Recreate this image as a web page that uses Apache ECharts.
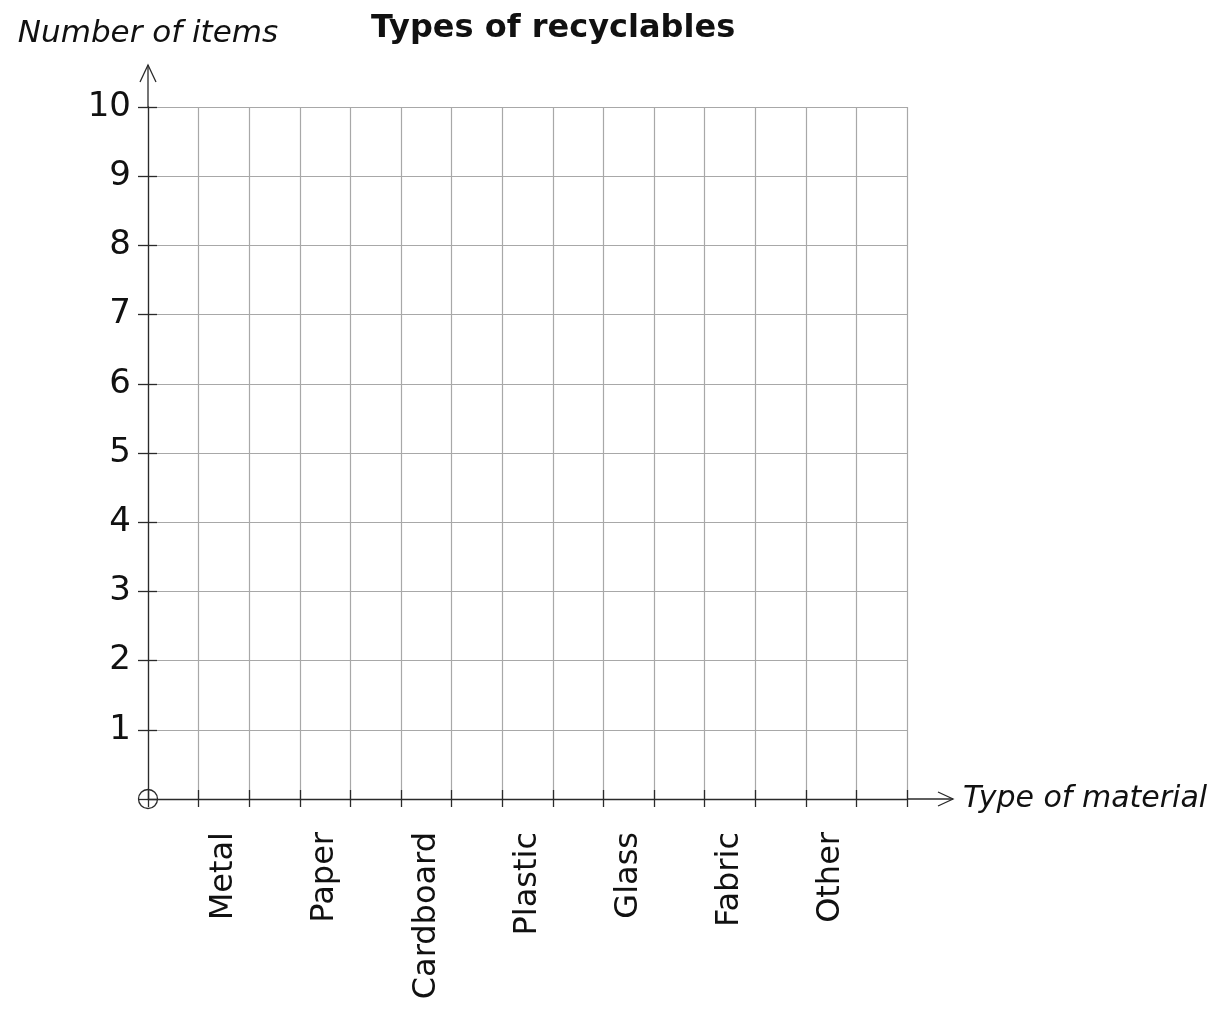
<!DOCTYPE html>
<html>
<head>
<meta charset="utf-8">
<script src="https://cdn.jsdelivr.net/npm/echarts@6/dist/echarts.min.js"></script>
<style>
html,body{margin:0;padding:0;background:#fff;}
#chart{width:1220px;height:1016px;}
</style>
</head>
<body>
<div id="chart"></div>
<script>
// Data
const chartTitle = "Types of recyclables";
const yAxisName = "Number of items";
const xAxisName = "Type of material";
const categories = ["Metal", "Paper", "Cardboard", "Plastic", "Glass", "Fabric", "Other"];
const categoryPositions = [1.5, 3.5, 5.5, 7.5, 9.5, 11.5, 13.5];
const yTickLabels = [0, 1, 2, 3, 4, 5, 6, 7, 8, 9, 10];
const counts = [null, null, null, null, null, null, null]; // blank chart: no values filled in
const xMax = 15;
const yMax = 10;

const FONT = "DejaVu Sans";
const AXIS = "#2a2a2a";
const GRIDC = "#a8a8a8";

const chart = echarts.init(document.getElementById('chart'), null, {renderer: 'canvas'});

function catLabel(v) {
  for (let i = 0; i < categoryPositions.length; i++) {
    if (Math.abs(categoryPositions[i] - v) < 1e-6) return categories[i];
  }
  return '';
}

const option = {
  backgroundColor: '#ffffff',
  animation: false,
  title: {
    text: chartTitle,
    left: 366,
    top: 8,
    textStyle: {fontFamily: FONT, fontWeight: 'bold', fontSize: 32, color: '#111'}
  },
  grid: {left: 148, right: 313, top: 107, bottom: 217, containLabel: false},
  xAxis: [
    {
      type: 'value', min: 0, max: xMax, interval: 1,
      name: xAxisName, nameLocation: 'end', nameGap: 56,
      nameTextStyle: {fontFamily: FONT, fontStyle: 'italic', fontSize: 30, color: '#111', verticalAlign: 'middle', align: 'left'},
      axisLine: {show: true, onZero: false, lineStyle: {color: AXIS, width: 1.3}},
      axisTick: {show: true, inside: false, length: 8, lineStyle: {color: AXIS, width: 1.3}},
      splitLine: {show: true, lineStyle: {color: GRIDC, width: 1.2}},
      axisLabel: {show: false}
    },
    {
      type: 'value', min: 0, max: xMax, interval: 1, position: 'bottom',
      axisLine: {show: false},
      axisTick: {show: true, inside: true, length: 9, lineStyle: {color: AXIS, width: 1.3}},
      splitLine: {show: false},
      axisLabel: {show: false}
    },
    {
      type: 'value', min: 0, max: xMax, interval: 0.5, position: 'bottom',
      axisLine: {show: false},
      axisTick: {show: false},
      splitLine: {show: false},
      axisLabel: {
        show: true, rotate: 90, margin: 33,
        fontFamily: FONT, fontSize: 32, color: '#111',
        formatter: catLabel,
        showMinLabel: false, showMaxLabel: false
      }
    }
  ],
  yAxis: [
    {
      type: 'value', min: 0, max: yMax, interval: 1,
      name: yAxisName, nameLocation: 'end', nameGap: 73,
      nameTextStyle: {fontFamily: FONT, fontStyle: 'italic', fontSize: 31, color: '#111', verticalAlign: 'middle', align: 'center'},
      axisLine: {show: true, onZero: false, lineStyle: {color: AXIS, width: 1.3}},
      axisTick: {show: true, inside: false, length: 10, lineStyle: {color: AXIS, width: 1.3}},
      splitLine: {show: true, lineStyle: {color: GRIDC, width: 1.2}},
      axisLabel: {
        show: true, margin: 17,
        fontFamily: FONT, fontSize: 34, color: '#111',
        formatter: function (v) { return (v === 0) ? '' : String(yTickLabels[v]); }
      }
    },
    {
      type: 'value', min: 0, max: yMax, interval: 1, position: 'left',
      axisLine: {show: false},
      axisTick: {show: true, inside: true, length: 9, lineStyle: {color: AXIS, width: 1.3}},
      splitLine: {show: false},
      axisLabel: {show: false}
    }
  ],
  series: [
    {
      type: 'bar',
      xAxisIndex: 2, yAxisIndex: 0,
      data: categoryPositions.map((p, i) => [p, counts[i]]),
      barWidth: 40,
      itemStyle: {color: '#555'}
    }
  ]
};

chart.setOption(option);

// Decorations: axis extensions with open arrowheads and origin circle, positioned via the chart's scales
function decorate() {
  const o = chart.convertToPixel({gridIndex: 0}, [0, 0]);
  const yTop = chart.convertToPixel({gridIndex: 0}, [0, yMax]);
  const xEnd = chart.convertToPixel({gridIndex: 0}, [xMax, 0]);
  const ls = {stroke: AXIS, lineWidth: 1.3, fill: null};
  const yTip = [yTop[0], yTop[1] - 42];
  const xTip = [xEnd[0] + 46, xEnd[1]];
  chart.setOption({
    graphic: [
      {type: 'polyline', shape: {points: [yTop, yTip]}, style: ls, silent: true},
      {type: 'polyline', shape: {points: [[yTip[0] - 8, yTip[1] + 17], yTip, [yTip[0] + 8, yTip[1] + 17]]}, style: ls, silent: true},
      {type: 'polyline', shape: {points: [xEnd, xTip]}, style: ls, silent: true},
      {type: 'polyline', shape: {points: [[xTip[0] - 15, xTip[1] - 7], xTip, [xTip[0] - 15, xTip[1] + 7]]}, style: ls, silent: true},
      {type: 'circle', shape: {cx: o[0], cy: o[1], r: 9.5}, style: {stroke: AXIS, lineWidth: 1.3, fill: 'rgba(0,0,0,0)'}, silent: true}
    ]
  });
}
decorate();
</script>
</body>
</html>
